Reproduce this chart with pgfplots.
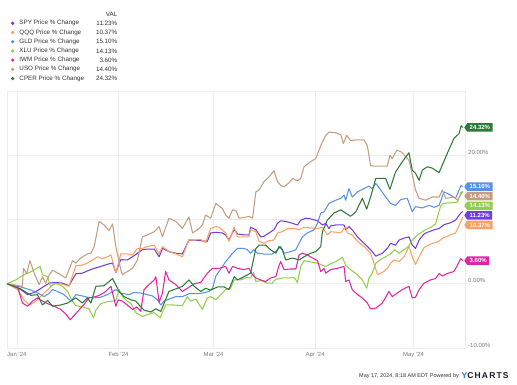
\documentclass[border=0pt]{standalone}
\usepackage{pgfplots}
\pgfplotsset{compat=1.18}
\usepackage{fontspec}
\setmainfont{Liberation Sans}
\usetikzlibrary{shapes.symbols}
\definecolor{spy}{RGB}{112,62,218}
\definecolor{qqq}{RGB}{255,160,96}
\definecolor{gld}{RGB}{88,146,230}
\definecolor{xlu}{RGB}{146,206,74}
\definecolor{iwm}{RGB}{226,36,164}
\definecolor{uso}{RGB}{196,156,128}
\definecolor{cper}{RGB}{44,122,52}
\definecolor{gridc}{RGB}{236,236,236}
\definecolor{tickc}{RGB}{120,120,120}
\definecolor{txt}{RGB}{50,50,50}
\begin{document}
\begin{tikzpicture}[x=1bp,y=1bp]
\begin{axis}[
  width=458bp, height=257bp, scale only axis,
  xmin=-3, xmax=136.7, ymin=-10, ymax=30,
  clip=false,
  axis line style={draw=gridc},
  grid=major, major grid style={draw=gridc, line width=0.6pt},
  major tick length=0pt,
  xtick={0,31,60,91,121},
  xticklabels={Jan '24,Feb '24,Mar '24,Apr '24,May '24},
  xticklabel style={font=\fontsize{6}{7}\selectfont, text=tickc, inner sep=0pt, yshift=-4bp},
  ytick={-10,0,10,20,30},
  yticklabels={-10.00\%,0.00\%,,20.00\%,},
  yticklabel pos=right,
  yticklabel style={font=\fontsize{6}{7}\selectfont, text=tickc, anchor=west, inner sep=0pt, xshift=3bp, yshift=3bp},
  every axis plot/.append style={line width=1.05pt, line join=round},
]
% SPY
\addplot[spy] coordinates {(-3,0)(1.2,-0.9)(3.3,-1.7)(5.3,-1.35)(6.8,-0.9)(8.3,-0.4)(9.9,0.1)(11.9,0.2)(13.9,0.1)(15.9,-0.3)(18,1.55)(20,1.65)(22,2.1)(23.6,2.4)(25.6,2.7)(28.1,3.1)(29.2,3.2)(30.2,1.75)(31.7,3.75)(33.7,3.7)(35.3,4.2)(36.8,4.75)(38.3,5.3)(39.8,5.4)(41.9,5.4)(43.4,4.2)(44.4,5.5)(46.4,5.0)(48.5,4.75)(50.5,4.65)(52.5,6.8)(54.1,6.8)(56.1,6.7)(58.1,6.6)(59.1,7.9)(60.7,8.0)(62.7,7.9)(63.7,7.6)(64.7,6.8)(66.3,8.5)(67.3,7.75)(69.3,7.6)(70.8,7.6)(71.3,8.8)(72.9,8.4)(74.4,7.3)(75.4,7.4)(76.9,7.9)(78.4,8.4)(79.5,9.4)(80.5,9.8)(82,9.7)(83.5,9.5)(85.6,9.15)(86.6,9.9)(88.1,10.2)(89.6,10.1)(91.7,9.8)(93.2,9.15)(94.2,9.4)(95.2,8.6)(95.7,9.0)(97.3,9.15)(99.8,9.15)(100.3,8.4)(101.3,8.9)(102.3,8.4)(103.9,7.3)(105.9,6.3)(107.9,5.3)(109.5,4.3)(111.5,4.75)(113,5.5)(114,6.3)(115.5,6.0)(116.6,6.8)(118.1,7.1)(119.6,7.3)(120.6,6.0)(121.6,5.5)(122.7,6.8)(124.2,7.75)(125.2,8.0)(127.3,8.4)(128.8,8.6)(130.3,9.2)(132.3,9.5)(133.8,9.9)(135.4,11.0)(136,11.23)};
% QQQ
\addplot[qqq] coordinates {(-3,0)(0.2,-0.9)(2.2,-2.5)(3.8,-3.3)(5.3,-2.9)(6.8,-2.2)(8.3,-1.45)(9.9,-0.7)(11.4,0)(13.4,0)(15.9,-0.4)(18,2.8)(20,2.9)(21.5,3.2)(23.1,3.7)(24.6,4.2)(26.1,3.9)(27.6,4.2)(28.7,4.5)(30.2,1.65)(31.7,4.65)(33.7,4.65)(35.3,4.5)(36.8,5.5)(38.3,5.5)(39.8,5.8)(41.9,6.0)(43.4,4.65)(44.4,5.8)(46.4,5.0)(48.5,4.65)(50.5,4.2)(52.5,6.9)(54.1,6.8)(56.1,6.9)(57.6,6.4)(59.1,8.6)(60.7,8.9)(61.7,8.8)(63.7,7.9)(64.7,6.6)(66.3,8.8)(67.3,7.3)(70.8,7.3)(71.3,8.4)(72.9,8.1)(73.9,6.6)(75.4,6.3)(76.9,6.7)(78.4,6.8)(79.5,7.9)(81,8.1)(82.6,8.6)(84.6,8.6)(86.1,8.4)(87.6,8.8)(89.6,8.7)(91.7,8.6)(93.2,8.8)(94.7,7.6)(95.7,8.1)(98.8,7.95)(100.3,8.9)(100.8,7.9)(102.3,7.6)(103.9,6.6)(105.9,5.8)(107.9,4.75)(108.9,3.2)(110,1.4)(111.5,1.75)(113,2.4)(114,3.2)(115,3.7)(116.6,3.45)(118.1,4.2)(119.6,5.8)(120.6,4.2)(121.6,3.0)(122.7,4.2)(124.2,5.6)(126.2,6.2)(128.3,6.5)(130.3,7.2)(132.3,7.6)(133.8,7.9)(135,9.2)(136,10.37)};
% GLD
\addplot[gld] coordinates {(-3,0)(1.2,-0.5)(3.8,-0.9)(5.3,-1.2)(6.8,-1.55)(8.3,-2.0)(9.9,-1.45)(10.9,-0.9)(12.4,-1.2)(14.4,-1.7)(16.5,-2.7)(18,-1.7)(20,-1.9)(21.5,-2.1)(23.6,-2.2)(25.6,-2.1)(27.6,-1.7)(30.2,-0.9)(31.7,-1.45)(34.2,-1.7)(35.8,-1.35)(37.8,-1.45)(39.8,-1.7)(41.4,-1.9)(42.9,-2.5)(43.9,-3.3)(44.9,-2.7)(46.4,-2.4)(48.5,-2.0)(50.5,-2.0)(52.5,-1.55)(54.6,-1.55)(56.6,-1.45)(58.6,-1.2)(59.7,-0.7)(60.7,1.2)(62.2,2.3)(63.7,3.45)(65.8,4.75)(67.3,5.5)(69.3,5.5)(70.3,5.3)(71.3,4.75)(72.3,5.3)(73.4,4.75)(75.9,4.6)(77.9,4.6)(79.5,5.3)(80.5,5.8)(81.5,4.75)(83.5,5.0)(85.1,5.3)(86.1,6.3)(87.1,7.3)(88.6,7.9)(90.7,8.4)(91.7,9.4)(92.7,11.0)(93.7,11.2)(95.2,12.5)(97.3,13.0)(98.8,13.3)(99.8,13.8)(100.3,13.0)(101.3,14.8)(102.3,13.5)(103.9,14.3)(105.9,14.8)(107.4,15.2)(108.4,14.8)(109.5,15.6)(111,14.6)(112.5,13.5)(114,12.5)(115.5,12.2)(117.1,13.1)(119.1,13.3)(120.6,11.2)(121.6,12.0)(123.7,11.8)(125.7,12.2)(127.3,11.9)(128.8,12.2)(130.3,14.3)(132.3,13.8)(133.8,13.3)(135.5,15.3)(136,15.10)};
% XLU
\addplot[xlu] coordinates {(-3,0)(-0.3,0.6)(2.2,1.4)(4.8,2.0)(7.1,2.7)(7.8,1.4)(9.4,1.1)(10.2,-0.4)(11.9,0.1)(13.9,-0.4)(15.5,-1.2)(16.7,-2.5)(18,-3.4)(20,-3.6)(22,-3.9)(23.4,-5.3)(24.1,-4.1)(25.6,-3.1)(27.6,-2.8)(29.2,-2.7)(30.2,-2.6)(31.2,-0.9)(32.2,-2.0)(33.7,-2.7)(34.8,-3.1)(36.3,-4.5)(38.3,-5.1)(39.8,-4.8)(41.9,-4.5)(43.7,-5.3)(45.4,-3.3)(47.5,-3.3)(50.5,-3.4)(52,-2.0)(53,-2.7)(54.6,-2.4)(56.6,-4.0)(58.1,-2.2)(59.1,-2.0)(60.7,-2.5)(62.2,-1.7)(63.7,-0.9)(65.2,-0.7)(66.3,0.6)(68.3,0.6)(70.3,1.0)(71.3,0.9)(72.2,1.75)(72.9,0.35)(74.4,0.5)(76.4,0.1)(77.9,0.1)(79,0.7)(81,0.9)(83,0.9)(84.6,1.0)(85.6,0.2)(86.6,2.7)(87.6,3.6)(89.6,3.4)(91.7,3.2)(93.2,2.9)(94.2,2.7)(95.7,3.1)(97.3,3.45)(99.3,4.1)(100.3,2.9)(101.8,2.2)(103.9,1.4)(105.4,0.6)(106.7,-0.7)(107.4,0.9)(108.4,1.65)(109.5,3.2)(111,3.8)(112.5,4.2)(114,4.65)(115.2,5.3)(116.6,4.75)(118.1,5.3)(119.6,5.9)(120.6,6.8)(122.2,7.6)(123.7,8.1)(124.7,8.4)(126.3,8.8)(127.7,9.3)(129.2,12.0)(130,12.5)(134.4,12.7)(135.5,14.3)(136,14.13)};
% IWM
\addplot[iwm] coordinates {(-3,0)(0.2,-0.4)(1.7,-3.0)(3.3,-3.5)(4.8,-2.7)(6.3,-2.2)(7.8,-2.7)(9.4,-3.1)(11.4,-3.5)(13.4,-4.0)(14.9,-4.7)(16.3,-5.6)(17.7,-4.8)(19.3,-3.9)(20.7,-3.1)(22,-2.2)(24.1,-2.0)(25.6,-1.7)(27.1,-1.2)(28.7,-0.4)(30.2,-3.5)(30.9,-2.5)(32.2,-2.7)(33.7,-3.3)(35.3,-4.0)(36.6,-3.6)(37.8,-4.3)(38.8,-0.9)(40.3,-0.15)(41.9,0.6)(42.4,1.1)(43.4,-2.9)(44.4,-1.45)(45.4,1.9)(46.4,0.6)(48.5,-0.15)(50.5,-1.2)(52,-0.7)(54.1,0)(56.1,0.2)(58.1,1.65)(59.7,2.4)(61.7,2.4)(63.7,2.7)(64.7,1.65)(65.8,2.7)(67.3,2.4)(69.3,2.2)(70.8,2.4)(71.9,1.4)(72.9,0.9)(74.4,0.6)(75.9,0.35)(77.4,0.9)(79,1.1)(80,2.9)(80.5,3.45)(81.5,2.2)(83.5,2.3)(85.1,2.3)(86.1,4.5)(87.1,4.75)(88.6,4.5)(90.2,4.0)(91.7,3.6)(92.7,1.9)(93.7,2.4)(94.2,1.65)(95.7,2.2)(97.8,2.4)(99.8,2.7)(100.3,0.35)(101.3,0.6)(102.3,-0.9)(103.9,-1.7)(105.4,-2.2)(106.9,-3.0)(107.9,-3.9)(109.5,-3.8)(111.5,-3.0)(113.5,-1.2)(114.5,-2.0)(116,-1.45)(117.6,-0.9)(119.6,-0.4)(120.6,-2.2)(121.6,-2.1)(122.7,-0.9)(124.2,0.1)(126.2,0.6)(127.7,0.8)(128.8,1.6)(129.8,1.2)(131.3,1.6)(133.3,1.9)(134.4,2.9)(135.4,3.9)(136,3.60)};
% USO
\addplot[uso] coordinates {(-3,0)(1.7,-0.4)(2,2.4)(3,1.55)(4,3.6)(5.3,1.65)(6.8,-0.15)(7.8,1.1)(8.8,0.1)(9.9,1.4)(10.9,2.1)(12.9,1.55)(14.9,0.9)(17,3.6)(18,3.2)(19.5,4.0)(21.5,4.65)(22.6,4.75)(23.6,5.8)(25.1,9.7)(26.6,9.15)(28.1,8.3)(29.2,9.3)(30.2,5.8)(31.7,2.2)(32.2,1.4)(33.7,1.9)(35.3,2.4)(36.8,3.7)(38.3,7.3)(39.8,7.6)(41.9,8.1)(43.4,8.9)(44.4,7.3)(46.4,10.2)(48.5,9.7)(50.5,8.6)(52.5,10.4)(53.6,7.9)(55.6,8.6)(56.6,9.15)(57.6,10.7)(59.1,10.2)(60.7,12.5)(62.7,11.7)(63.7,10.7)(64.7,10.2)(65.8,11.5)(66.8,11.4)(67.8,10.2)(69.3,10.3)(70.8,10.5)(71.9,10.2)(72.9,14.3)(73.9,14.6)(75.4,15.9)(76.9,16.6)(78.4,17.6)(79.5,15.9)(80.5,15.3)(81.5,15.1)(83,15.7)(84.1,16.4)(85.6,16.0)(86.6,16.4)(87.6,18.2)(89.6,19.0)(91.2,19.5)(92.7,21.5)(94.2,23.1)(95.2,23.6)(97.3,23.5)(98.8,23.2)(99.6,21.8)(100.6,23.1)(101.8,22.3)(103.9,22.4)(105.9,22.4)(106.9,21.5)(107.9,18.4)(108.9,18.3)(111,18.3)(113,18.3)(113.8,20.0)(114.5,19.5)(115.9,20.8)(117.3,20.5)(118.6,19.8)(119.6,19.2)(120.6,17.0)(121.6,14.6)(122.7,13.3)(124.7,13.0)(126.7,13.5)(128.8,13.5)(129.8,14.6)(130.8,13.3)(133.3,13.5)(134.4,13.0)(136,14.40)};
% CPER
\addplot[cper] coordinates {(-3,0)(1.2,-0.8)(4.3,-1.8)(6.3,-1.7)(7.8,-3.3)(9.4,-2.6)(10.9,-3.5)(13.4,-3.3)(15.5,-3.0)(18,-2.2)(20,-3.0)(21.5,-2.2)(22.6,-3.0)(24.1,-0.4)(26.6,-0.3)(29.2,0.8)(31.2,-1.2)(32.7,-2.0)(34.8,-2.5)(36.3,-2.7)(37.3,-3.3)(38.8,-4.1)(40.9,-4.4)(42.4,-3.9)(43.9,-4.3)(46.4,-1.2)(48.5,-0.8)(50.5,-0.4)(52.5,0.6)(54.1,-0.4)(56.1,-1.2)(57.6,-0.7)(59.1,-1.0)(61.2,-0.5)(63.2,-0.5)(64.7,-0.9)(66.3,1.1)(67.3,0.6)(69.3,1.1)(71.3,1.65)(72.9,5.5)(73.9,6.0)(75.9,6.0)(77.4,5.3)(79,4.75)(80,5.8)(81,5.3)(82,3.7)(84.1,4.0)(86.1,3.7)(87.6,4.2)(89.6,4.75)(91.2,5.0)(92.7,5.8)(93.2,8.1)(94.7,9.9)(96.7,11.0)(98.8,11.5)(100.3,11.0)(101.8,10.5)(103.4,11.2)(105.4,13.3)(106.7,11.6)(107.9,13.5)(109.5,16.4)(112.5,16.4)(113.8,14.7)(115.5,17.4)(117.6,19.0)(119.6,20.4)(120.6,17.7)(121.6,17.2)(122.7,16.1)(123.7,17.7)(125.2,18.2)(126.7,18.0)(128.8,17.3)(131.3,20.3)(133.3,22.6)(134.9,23.4)(135.5,24.6)(136,24.32)};
% end labels
\tikzset{endlab/.style={signal, signal to=west, signal pointer angle=110, anchor=west, text=white, font=\fontsize{6}{7}\selectfont\bfseries, inner xsep=2.5bp, inner ysep=1.3bp, minimum height=8.5bp}}
\node[endlab, fill=cper] at (axis cs:136.4,24.32) {24.32\%};
\node[endlab, fill=gld] at (axis cs:136.4,15.1) {15.10\%};
\node[endlab, fill=uso] at (axis cs:136.4,13.64) {14.40\%};
\node[endlab, fill=xlu] at (axis cs:136.4,12.14) {14.13\%};
\node[endlab, fill=spy] at (axis cs:136.4,10.65) {11.23\%};
\node[endlab, fill=qqq] at (axis cs:136.4,9.15) {10.37\%};
\node[endlab, fill=iwm] at (axis cs:136.4,3.6) {3.60\%};
\coordinate (O) at (rel axis cs:0,0);
\end{axis}
\pgfresetboundingbox
\begin{scope}[shift={(O)}, shift={(-7,-36)}]
\path[use as bounding box] (0,0) rectangle (517,384);
% legend
\begin{scope}[font=\fontsize{6.3}{7}\selectfont, text=txt]
\node[anchor=east, inner sep=0pt] at (117.5,370) {VAL};
\foreach \c/\n/\v [count=\i from 0] in {spy/SPY/11.23,qqq/QQQ/10.37,gld/GLD/15.10,xlu/XLU/14.13,iwm/IWM/3.60,uso/USO/14.40,cper/CPER/24.32}{
  \fill[\c] (12.7,{360.7-\i*9.2}) circle[radius=1.8bp];
  \node[anchor=west, inner sep=0pt] at (19.3,{360.7-\i*9.2}) {\n\ Price \% Change};
  \node[anchor=east, inner sep=0pt] at (117.5,{360.7-\i*9.2}) {\v\%};
}
\end{scope}
% footer
\node[anchor=east, inner sep=0pt, font=\fontsize{5.5}{6}\selectfont, text=txt] at (459,8) {May 17, 2024, 8:18 AM EDT Powered by};
\node[anchor=west, inner sep=0pt, font=\fontsize{8.5}{9}\selectfont\bfseries\addfontfeatures{LetterSpace=14}] at (461.5,8) {\textcolor[RGB]{40,110,230}{Y}\textcolor[RGB]{25,25,40}{CHARTS}};
\end{scope}
\end{tikzpicture}
\end{document}
